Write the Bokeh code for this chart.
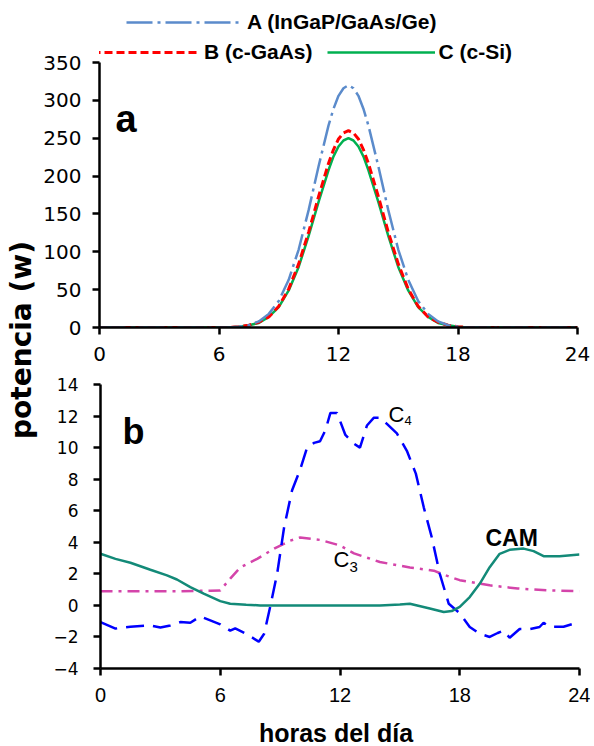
import math
from bokeh.plotting import figure
from bokeh.models import Range1d, Legend, LegendItem, Label, FixedTicker
from bokeh.layouts import row, column
from bokeh.embed import file_html
from bokeh.resources import INLINE

FONT = "Liberation Sans"
WIDE = "DejaVu Sans"

# ---------------- Panel a data (power of solar cells, W) ----------------
hours_a = [0, 6.5, 7, 7.5, 8, 8.5, 9, 9.5, 10, 10.5, 11, 11.5, 11.75, 12, 12.25,
           12.5, 12.75, 13, 13.25, 13.5, 14, 14.5, 15, 15.5, 16, 16.5, 17, 17.5,
           18, 18.5, 24]
power_A = [0, 0, 1, 3, 8, 18, 35, 63, 103, 155, 213, 267, 289, 306, 316,
           320, 316, 306, 289, 267, 213, 155, 103, 63, 35, 18, 8, 3,
           1, 0, 0]
power_B = [0, 0, 1, 3, 7, 14, 28, 51, 84, 126, 173, 217, 235, 249, 257,
           260, 257, 249, 235, 217, 173, 126, 84, 51, 28, 14, 7, 3,
           1, 0, 0]
power_C = [0, 0, 1, 3, 6, 14, 27, 49, 80, 121, 166, 208, 226, 239, 247,
           250, 247, 239, 226, 208, 166, 121, 80, 49, 27, 14, 6, 3,
           1, 0, 0]
label_A = "A (InGaP/GaAs/Ge)"
label_B = "B (c-GaAs)"
label_C = "C (c-Si)"

# ---------------- Panel b data (plants) ----------------
hours_c4 = [0, 0.75, 1.5, 2.5, 3.0, 3.5, 4.0, 4.5, 5.0, 5.5, 6.0, 6.5, 6.75, 7.3,
            7.93, 8.2, 8.5, 8.85, 9.2, 9.6, 10.0, 10.35, 10.7, 11.0, 11.27, 11.52,
            11.85, 12.27, 12.7, 13.0, 13.35, 13.7, 14.0, 14.35, 14.85, 15.35, 15.8,
            16.2, 16.6, 17.0, 17.45, 18.0, 18.5, 19.0, 19.5, 19.9, 20.2, 20.5, 21.0,
            21.5, 22.0, 22.2, 22.5, 23.2, 24]
value_c4 = [-1.06, -1.47, -1.35, -1.27, -1.4, -1.27, -1.06, -1.1, -0.7, -0.95, -1.2,
            -1.6, -1.45, -1.8, -2.3, -1.8, -0.1, 2.0, 4.95, 7.3, 8.6, 10.0, 10.3,
            10.4, 11.1, 12.2, 12.2, 10.8, 10.25, 10.0, 11.4, 11.9, 11.9, 11.5, 10.9,
            9.8, 8.35, 6.2, 4.3, 2.0, 0.1, -0.5, -1.37, -1.8, -2.0, -1.75, -1.6,
            -2.05, -1.5, -1.5, -1.37, -1.1, -1.35, -1.35, -1.05]

hours_c3 = [0, 1, 2, 3, 4, 5, 5.5, 6.0, 6.5, 7.0, 7.85, 8.7, 9.5, 10.0, 11.0,
            12.0, 12.7, 14.0, 15.5, 16.7, 17.3, 18.0, 19.5, 20.9, 22.5, 24]
value_c3 = [0.9, 0.9, 0.9, 0.9, 0.9, 0.92, 0.92, 0.95, 1.7, 2.4, 2.95, 3.6, 4.1,
            4.3, 4.15, 3.8, 3.3, 2.75, 2.4, 2.2, 1.9, 1.6, 1.27, 1.07, 0.95, 0.9]

hours_cam = [0, 0.75, 1.5, 2.5, 3.33, 3.83, 4.5, 5.17, 6.0, 6.5, 7.3, 8, 10, 12,
             14, 15.0, 15.5, 16.5, 17.2, 17.6, 18.0, 18.5, 19.0, 19.5, 20.0, 20.5,
             21.2, 21.7, 22.2, 23.0, 24]
value_cam = [3.27, 2.95, 2.7, 2.26, 1.9, 1.64, 1.16, 0.74, 0.27, 0.1, 0.04, 0.0,
             0.0, 0.0, 0.0, 0.05, 0.1, -0.2, -0.42, -0.36, -0.1, 0.53, 1.37, 2.42,
             3.27, 3.52, 3.6, 3.44, 3.12, 3.12, 3.23]

x_ticks = [0, 6, 12, 18, 24]
y_ticks_a = [0, 50, 100, 150, 200, 250, 300, 350]
y_ticks_b = [-4, -2, 0, 2, 4, 6, 8, 10, 12, 14]


def style(p, yticks, ystand, xfont, xsize, yfont, ysize):
    p.grid.visible = False
    p.outline_line_color = None
    p.background_fill_color = "white"
    p.border_fill_color = "white"
    for ax in p.axis:
        ax.axis_line_width = 2.5
        ax.axis_line_color = "black"
        ax.major_tick_line_width = 2.5
        ax.major_tick_line_color = "black"
        ax.major_tick_out = 7
        ax.major_tick_in = 0
        ax.minor_tick_out = 0
        ax.minor_tick_in = 0
        ax.major_label_text_color = "black"
    p.xaxis.ticker = FixedTicker(ticks=x_ticks)
    p.xaxis.major_label_standoff = 12
    p.xaxis.major_label_text_font = xfont
    p.xaxis.major_label_text_font_size = xsize
    p.yaxis.ticker = FixedTicker(ticks=yticks)
    p.yaxis.major_label_standoff = ystand
    p.yaxis.major_label_text_font = yfont
    p.yaxis.major_label_text_font_size = ysize


def text(p, x, y, s, size, bold=False, font=FONT, **kw):
    p.add_layout(Label(x=x, y=y, text=s, text_font=font,
                       text_font_style="bold" if bold else "normal",
                       text_font_size=size, text_color="black",
                       text_baseline="middle", **kw))


# ---------------- Panel a ----------------
# frame extends above 350 to host the legend; the axis itself stops at 350
pa = figure(width=550, height=372, x_range=Range1d(0, 24),
            y_range=Range1d(0, 418.7),
            output_backend="svg", toolbar_location=None,
            min_border_left=57, min_border_right=13, min_border_top=10,
            min_border_bottom=45, frame_align=False)
style(pa, y_ticks_a, 11, WIDE, "20px", WIDE, "20px")
pa.yaxis.bounds = (0, 350)

rC = pa.line(hours_a, power_C, line_color="#00B050", line_width=2.5)
rB = pa.line(hours_a, power_B, line_color="#FF0000", line_width=3, line_dash="8 4")
rA = pa.line(hours_a, power_A, line_color="#5B8BCB", line_width=2.5,
             line_dash="26 5 3 5")

leg1 = Legend(items=[LegendItem(label=label_A, renderers=[rA])],
              location=(27, 293), orientation="horizontal",
              glyph_width=113, label_standoff=8)
leg2 = Legend(items=[LegendItem(label=label_B, renderers=[rB]),
                     LegendItem(label=label_C, renderers=[rC])],
              location=(-7, 263), orientation="horizontal",
              glyph_width=108, label_standoff=4)
for lg in (leg1, leg2):
    lg.label_text_font = FONT
    lg.label_text_font_style = "bold"
    lg.label_text_font_size = "21px"
    lg.label_text_color = "black"
    lg.glyph_height = 20
    lg.spacing = 14
    lg.padding = 0
    lg.margin = 0
    lg.border_line_alpha = 0
    lg.background_fill_alpha = 0
    pa.add_layout(lg)

text(pa, 0.8, 275, "a", "38px", bold=True)

# ---------------- Panel b ----------------
pb = figure(width=550, height=342, x_range=Range1d(0, 24), y_range=Range1d(-4, 14),
            output_backend="svg", toolbar_location=None,
            min_border_left=60, min_border_right=11, min_border_top=12,
            min_border_bottom=46, frame_align=False)
style(pb, y_ticks_b, 15, FONT, "20px", WIDE, "17px")

pb.line(hours_c3, value_c3, line_color="#D444AA", line_width=2.5,
        line_dash="12 6 3 6")
pb.line(hours_c4, value_c4, line_color="#0000FF", line_width=2.5, line_dash="18 9")
pb.line(hours_cam, value_cam, line_color="#138A78", line_width=2.5)

text(pb, 1.1, 11.05, "b", "36px", bold=True)
text(pb, 14.43, 12.09, "C", "22px")
text(pb, 15.23, 11.74, "4", "13px")
text(pb, 11.67, 2.89, "C", "22px")
text(pb, 12.47, 2.42, "3", "15px")
text(pb, 19.29, 4.30, "CAM", "23px", bold=True)

# ---------------- Shared x label ----------------
px = figure(width=550, height=32, x_range=Range1d(0, 550), y_range=Range1d(0, 32),
            output_backend="svg", toolbar_location=None, min_border=0,
            x_axis_location=None, y_axis_location=None, frame_align=False)
px.grid.visible = False
px.outline_line_color = None
text(px, 295.5, 13.8, "horas del día", "25px", bold=True, text_align="center")

# ---------------- Shared y label ----------------
pl = figure(width=40, height=746, x_range=Range1d(0, 40), y_range=Range1d(0, 746),
            output_backend="svg", toolbar_location=None, min_border=0,
            x_axis_location=None, y_axis_location=None, frame_align=False)
pl.grid.visible = False
pl.outline_line_color = None
text(pl, 21, 406.5, "potencia (w)", "28px", bold=True, font=WIDE,
     text_align="center", angle=math.pi / 2)

layout = row(pl, column(pa, pb, px))
open("out.html", "w").write(file_html(layout, INLINE))
